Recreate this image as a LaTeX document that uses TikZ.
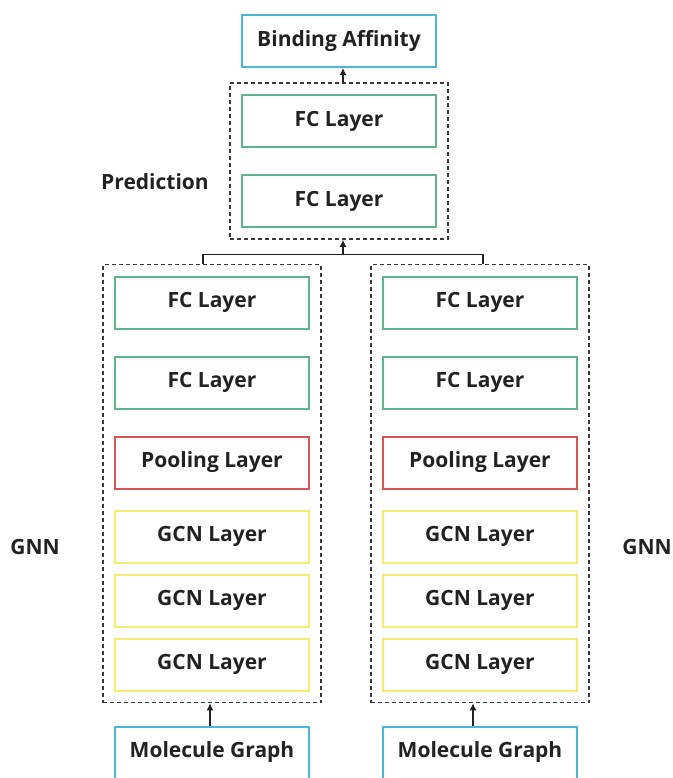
\documentclass[tikz,border=0pt]{standalone}
\usepackage{fontspec}
\setmainfont{Open Sans}
\usepackage{xcolor}
\usetikzlibrary{shapes,arrows,arrows.meta,positioning,fit}

\definecolor{boxblue}{HTML}{4DB6D6}
\definecolor{boxgreen}{HTML}{5DB68E}
\definecolor{boxred}{HTML}{D95454}
\definecolor{boxyellow}{HTML}{F2EE72}
\definecolor{dashgray}{HTML}{383838}
\definecolor{textdark}{HTML}{222222}

\tikzset{
  caption/.style={font=\fontsize{21}{25}\selectfont\bfseries, text=textdark},
  layer/.style={caption, draw, rectangle, line width=2pt, minimum width=194pt, minimum height=52pt},
  io/.style={layer, draw=boxblue},
  fc/.style={layer, draw=boxgreen},
  pool/.style={layer, draw=boxred},
  gcn/.style={layer, draw=boxyellow},
  group/.style={draw=dashgray, line width=1.5pt, dash pattern=on 4pt off 3pt, rectangle, inner sep=11pt},
  link/.style={draw=textdark, line width=1.3pt},
  feed/.style={link, -{Latex[length=7pt,width=7pt]}}
}

\begin{document}
\begin{tikzpicture}[x=1pt, y=1pt, node distance=80pt, auto]
\useasboundingbox (0,0) rectangle (672,-778);

% prediction head
\node (affinity) [io] at (339,-41) {Binding Affinity};
\node (pfc1) [fc, below of=affinity] {FC Layer};
\node (pfc2) [fc, below of=pfc1] {FC Layer};
\node (pred) [group, fit=(pfc1)(pfc2)] {};
\node (predlabel) [caption] at (155,-182) {Prediction};

% left GNN
\node (lfc1) [fc] at (212,-302.5) {FC Layer};
\node (lfc2) [fc, below of=lfc1] {FC Layer};
\node (lpool) [pool, below of=lfc2] {Pooling Layer};
\node (lgcn1) [gcn, node distance=74pt, below of=lpool] {GCN Layer};
\node (lgcn2) [gcn, node distance=64pt, below of=lgcn1] {GCN Layer};
\node (lgcn3) [gcn, node distance=64pt, below of=lgcn2] {GCN Layer};
\node (lgnn) [group, fit=(lfc1)(lgcn3)] {};
\node (lmol) [io, node distance=88pt, below of=lgcn3] {Molecule Graph};
\node (lgnnlabel) [caption] at (35,-547) {GNN};

% right GNN
\node (rfc1) [fc] at (480,-302.5) {FC Layer};
\node (rfc2) [fc, below of=rfc1] {FC Layer};
\node (rpool) [pool, below of=rfc2] {Pooling Layer};
\node (rgcn1) [gcn, node distance=74pt, below of=rpool] {GCN Layer};
\node (rgcn2) [gcn, node distance=64pt, below of=rgcn1] {GCN Layer};
\node (rgcn3) [gcn, node distance=64pt, below of=rgcn2] {GCN Layer};
\node (rgnn) [group, fit=(rfc1)(rgcn3)] {};
\node (rmol) [io, node distance=88pt, below of=rgcn3] {Molecule Graph};
\node (rgnnlabel) [caption] at (647,-547) {GNN};

% connectors
\coordinate (join) at ([xshift=4pt, yshift=-15pt]pred.south);
\draw[link] ([xshift=-9pt]lgnn.north) |- (join) -| ([xshift=3pt]rgnn.north);
\draw[feed] (join) -- (join |- pred.south);
\draw[feed] ([xshift=4pt]pred.north) -- ([xshift=4pt]affinity.south);
\draw[feed] ([xshift=-2pt]lmol.north) -- ([xshift=-2pt]lgnn.south);
\draw[feed] ([xshift=-7pt]rmol.north) -- ([xshift=-7pt]rgnn.south);
\end{tikzpicture}
\end{document}
